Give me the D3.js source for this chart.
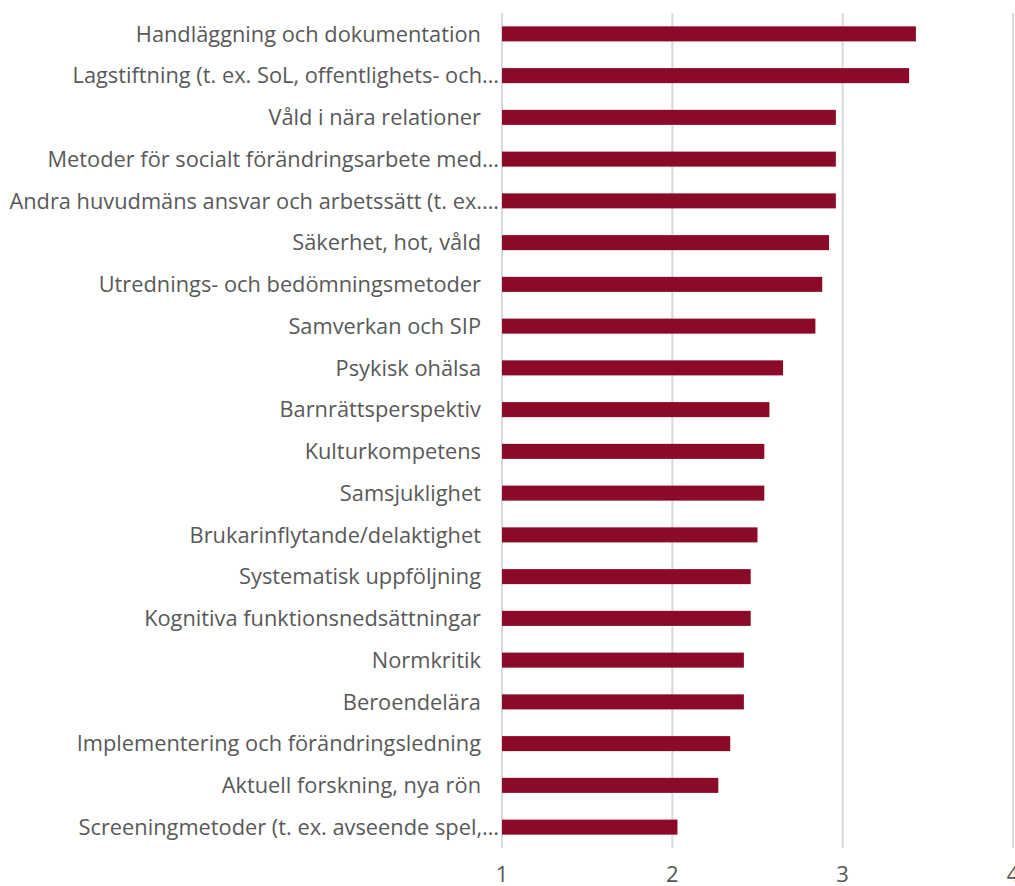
<!DOCTYPE html>
<html>
<head>
<meta charset="utf-8">
<script src="https://cdn.jsdelivr.net/npm/d3@7/dist/d3.min.js"></script>
<style>
  body { margin: 0; background: #fff; }
  text { font-family: "Open Sans", "Liberation Sans", Arial, sans-serif; fill: #595959; }
</style>
</head>
<body>
<div id="chart"></div>
<script>
// Categories (top to bottom) and mean scores
const categories = [
  "Handläggning och dokumentation",
  "Lagstiftning (t. ex. SoL, offentlighets- och…",
  "Våld i nära relationer",
  "Metoder för socialt förändringsarbete med…",
  "Andra huvudmäns ansvar och arbetssätt (t. ex.…",
  "Säkerhet, hot, våld",
  "Utrednings- och bedömningsmetoder",
  "Samverkan och SIP",
  "Psykisk ohälsa",
  "Barnrättsperspektiv",
  "Kulturkompetens",
  "Samsjuklighet",
  "Brukarinflytande/delaktighet",
  "Systematisk uppföljning",
  "Kognitiva funktionsnedsättningar",
  "Normkritik",
  "Beroendelära",
  "Implementering och förändringsledning",
  "Aktuell forskning, nya rön",
  "Screeningmetoder (t. ex. avseende spel,…"
];
const values = [3.43, 3.39, 2.96, 2.96, 2.96, 2.92, 2.88, 2.84, 2.65, 2.57,
                2.54, 2.54, 2.50, 2.46, 2.46, 2.42, 2.42, 2.34, 2.27, 2.03];
const xTicks = [1, 2, 3, 4];

const data = categories.map((c, i) => ({name: c, value: values[i]}));

const W = 1015, H = 886;
const margin = {top: 13, right: 2, bottom: 38, left: 502};
const width = W - margin.left - margin.right,
      height = H - margin.top - margin.bottom;

const svg = d3.select("#chart")
  .append("svg")
  .attr("width", W)
  .attr("height", H);

const g = svg.append("g")
  .attr("transform", `translate(${margin.left},${margin.top})`);

const x = d3.scaleLinear().domain([1, 4]).range([0, 511]);
const y = d3.scaleBand().domain(categories).range([0, height]).paddingInner(0.64).paddingOuter(0.32);

// Gridlines
g.selectAll("line.grid")
  .data(xTicks)
  .enter()
  .append("line")
  .attr("class", "grid")
  .attr("x1", d => x(d)).attr("x2", d => x(d))
  .attr("y1", 0).attr("y2", height)
  .attr("stroke", "#d9d9d9")
  .attr("stroke-width", 2);

// Bars
g.selectAll("rect")
  .data(data)
  .enter()
  .append("rect")
  .attr("x", x(1))
  .attr("y", d => y(d.name))
  .attr("width", d => x(d.value) - x(1))
  .attr("height", y.bandwidth())
  .attr("fill", "#8b0a28");

// Category labels
g.selectAll("text.cat")
  .data(data)
  .enter()
  .append("text")
  .attr("class", "cat")
  .attr("x", d => d.name.endsWith("…") ? -3 : -21)
  .attr("y", d => y(d.name) + y.bandwidth() / 2)
  .attr("dy", "0.35em")
  .attr("text-anchor", "end")
  .style("font-size", "21.8px")
  .text(d => d.name);

// X tick labels
g.selectAll("text.tick")
  .data(xTicks)
  .enter()
  .append("text")
  .attr("class", "tick")
  .attr("x", d => x(d))
  .attr("y", height + 34)
  .attr("text-anchor", "middle")
  .style("font-size", "22px")
  .text(d => d);
</script>
</body>
</html>
